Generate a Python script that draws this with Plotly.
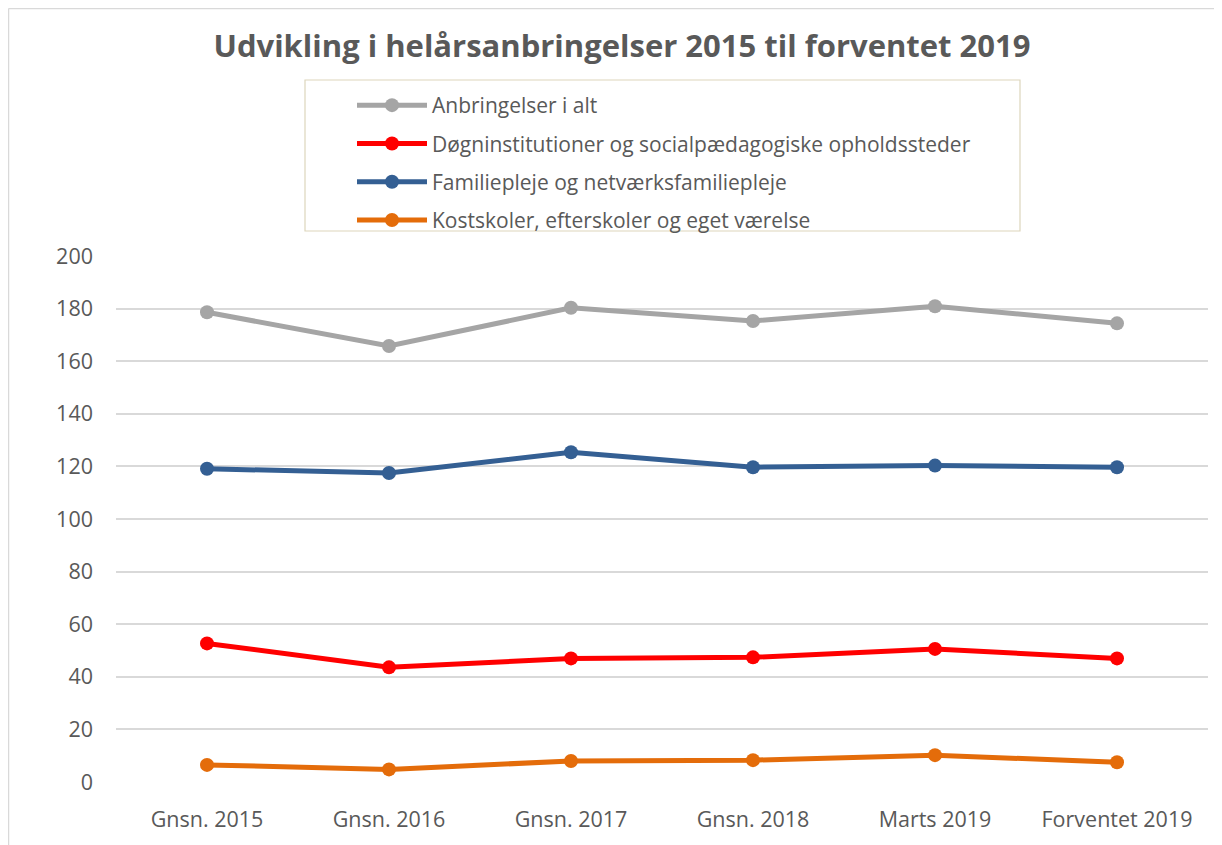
import plotly.graph_objects as go

categories = ["Gnsn. 2015", "Gnsn. 2016", "Gnsn. 2017", "Gnsn. 2018", "Marts 2019", "Forventet 2019"]
anbringelser_i_alt = [178.6, 165.8, 180.3, 175.3, 180.9, 174.4]
doegninstitutioner = [52.7, 43.6, 47.0, 47.4, 50.6, 47.0]
familiepleje = [119.1, 117.5, 125.4, 119.7, 120.3, 119.7]
kostskoler = [6.5, 4.8, 8.0, 8.3, 10.2, 7.5]

series_names = [
    "Anbringelser i alt",
    "Døgninstitutioner og socialpædagogiske opholdssteder",
    "Familiepleje og netværksfamiliepleje",
    "Kostskoler, efterskoler og eget værelse",
]
series_values = [anbringelser_i_alt, doegninstitutioner, familiepleje, kostskoler]
series_colors = ["#A5A5A5", "#FF0000", "#345F93", "#E46C0A"]

FONT = "Open Sans"
TXT = "#595959"

fig = go.Figure()
for i, (name, vals, col) in enumerate(zip(series_names, series_values, series_colors)):
    fig.add_trace(go.Scatter(
        x=categories, y=vals, name=name, mode="lines+markers",
        line=dict(color=col, width=5),
        marker=dict(color=col, size=14),
        legendgroup="g%d" % i,
    ))

OFF = 8  # page body margin
W, H = 1222 - OFF, 845 - OFF
L, R, T, B = 116 - OFF, 1208 - OFF, 256 - OFF, 782 - OFF
pw, ph = R - L, B - T

def px(x):
    return (x - OFF - L) / pw

def py(y):
    return (B - (y - OFF)) / ph

shapes = [
    dict(type="rect", xref="paper", yref="paper", x0=px(305), x1=px(1020), y0=py(231), y1=py(80),
         line=dict(color="#DDD6BC", width=1.2), fillcolor="rgba(0,0,0,0)", layer="below"),
    dict(type="line", xref="paper", yref="paper", x0=px(8.5), x1=px(8.5), y0=py(8.5), y1=py(900),
         line=dict(color="#D9D9D9", width=1.5)),
    dict(type="line", xref="paper", yref="paper", x0=px(8.5), x1=px(1300), y0=py(8.5), y1=py(8.5),
         line=dict(color="#D9D9D9", width=1.5)),
]

fig.update_layout(
    width=W, height=H,
    margin=dict(l=L, r=W - R, t=T, b=H - B),
    paper_bgcolor="white", plot_bgcolor="white",
    font=dict(family=FONT, color=TXT, size=21),
    title=dict(text="<b>Udvikling i helårsanbringelser 2015 til forventet 2019</b>",
               xref="container", yref="container", x=(622 - OFF) / W, y=1 - (46 - OFF) / H,
               xanchor="center", yanchor="middle",
               font=dict(family=FONT, size=31, color=TXT)),
    showlegend=True,
    legend=dict(x=px(352), y=py(85), xanchor="left", yanchor="top",
                bgcolor="rgba(0,0,0,0)", borderwidth=0,
                font=dict(family=FONT, size=21, color=TXT),
                itemwidth=70, traceorder="grouped", tracegroupgap=8),
    shapes=shapes,
    xaxis=dict(type="category", range=[-0.5, 5.5], showgrid=False, showline=False, zeroline=False,
               ticks="", tickfont=dict(family=FONT, size=21.5, color=TXT),
               ticklabelstandoff=22),
    yaxis=dict(range=[0, 200], dtick=20, showgrid=True, gridcolor="#D9D9D9", gridwidth=1.5,
               zeroline=False, showline=False, ticks="",
               tickfont=dict(family=FONT, size=21.5, color=TXT), ticklabelstandoff=22),
)

fig.write_html("out.html")
